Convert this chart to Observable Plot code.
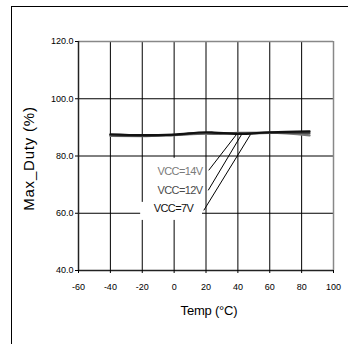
<!DOCTYPE html>
<html><head><meta charset="utf-8">
<script src="https://cdn.jsdelivr.net/npm/d3@7"></script>
<script src="https://cdn.jsdelivr.net/npm/@observablehq/plot@0.6"></script>
<style>
html,body{margin:0;padding:0;background:#fff;overflow:hidden;width:348px;height:344px;}
#wrap{position:relative;width:348px;height:344px;}
#frame{position:absolute;left:11px;top:6px;width:400px;height:400px;border:1px solid #000;box-sizing:border-box;pointer-events:none;}
svg{position:absolute;left:0;top:0;}
.vcc text{letter-spacing:-0.6px;}
.ylab text{letter-spacing:0.8px;}
.xlab text{letter-spacing:-0.2px;}
</style></head>
<body><div id="wrap"><div id="frame"></div></div>
<script>
const temps = [-40, -20, 0, 20, 25, 40, 60, 85];
const vcc7  = [87.6, 87.3, 87.5, 88.3, 88.2, 87.7, 88.3, 88.6];
const vcc12 = [87.3, 87.0, 87.4, 88.0, 87.9, 87.9, 88.1, 88.0];
const vcc14 = [87.0, 86.9, 87.3, 87.8, 87.7, 88.1, 88.2, 87.2];
const seriesNames = ["VCC=14V", "VCC=12V", "VCC=7V"];
const seriesColors = ["#7a7a7a", "#4a4a4a", "#111111"];
const xTicks = [-60, -40, -20, 0, 20, 40, 60, 80, 100];
const yTicks = [40, 60, 80, 100, 120];
// annotation label positions (data units)
const labelX = [17.8, 17.8, 12.0];
const labelY = [74.5, 68.0, 61.6];
const leaderX1 = [21.7, 21.4, 18.6];
const leaderY1 = [75.0, 68.0, 61.0];
const leaderX2 = [39.1, 42.3, 47.9];
const leaderY2 = [87.5, 87.5, 87.5];
const boxX1 = [-15, -21];
const boxX2 = [19, 17.8];
const boxY1 = [63.8, 57.5];
const boxY2 = [79.2, 63.8];

const seriesVals = [vcc14, vcc12, vcc7];
const rows = [];
seriesNames.forEach((s, i) => temps.forEach((t, j) => rows.push({s, t, v: seriesVals[i][j]})));
const labels = seriesNames.map((s, i) => ({s, x: labelX[i], y: labelY[i]}));
const leaders = seriesNames.map((s, i) => ({x1: leaderX1[i], y1: leaderY1[i], x2: leaderX2[i], y2: leaderY2[i]}));
const boxes = boxX1.map((d, i) => ({x1: d, x2: boxX2[i], y1: boxY1[i], y2: boxY2[i]}));

const chart = Plot.plot({
  width: 348, height: 344,
  marginLeft: 78, marginRight: 15, marginTop: 41, marginBottom: 74,
  style: {fontFamily: "'Liberation Sans', Arial, sans-serif", fontSize: "9px", background: "transparent", color: "#000"},
  x: {domain: [-60, 100]},
  y: {domain: [40, 120]},
  color: {domain: seriesNames, range: seriesColors},
  marks: [
    Plot.ruleX(xTicks.filter(d => d > -60 && d < 100), {stroke: "#000", strokeWidth: 1}),
    Plot.ruleY(yTicks.filter(d => d > 40 && d < 120), {stroke: "#000", strokeWidth: 1}),
    Plot.ruleX([100], {stroke: "#888", strokeWidth: 1.5}),
    Plot.ruleY([120], {stroke: "#888", strokeWidth: 1.5}),
    Plot.ruleX([-60], {stroke: "#222", strokeWidth: 1.5}),
    Plot.ruleY([40], {stroke: "#222", strokeWidth: 1.5}),
    Plot.axisX({ticks: xTicks, tickSize: 3, tickPadding: 10, label: null, tickFormat: d => String(d)}),
    Plot.axisY({ticks: yTicks, tickSize: 3, tickPadding: 2, label: null, tickFormat: d => d.toFixed(1)}),
    Plot.rect(boxes, {x1: "x1", x2: "x2", y1: "y1", y2: "y2", fill: "#fff"}),
    Plot.line(rows, {x: "t", y: "v", z: "s", stroke: "s", strokeWidth: 2.2, curve: "monotone-x"}),
    Plot.link(leaders, {x1: "x1", y1: "y1", x2: "x2", y2: "y2", stroke: "#000", strokeWidth: 1}),
    Plot.text(labels, {x: "x", y: "y", text: "s", fill: d => d.s, textAnchor: "end", fontSize: 11, className: "vcc"}),
    Plot.text(["Max_Duty (%)"], {frameAnchor: "left", rotate: -90, dx: -49, dy: 2.5, fontSize: 15, textAnchor: "middle", lineAnchor: "middle", className: "ylab"}),
    Plot.text(["Temp (°C)"], {frameAnchor: "bottom", dx: 3, dy: 40, fontSize: 13, lineAnchor: "middle", className: "xlab"})
  ]
});
document.getElementById("wrap").insertBefore(chart, document.getElementById("frame"));
</script></body></html>
